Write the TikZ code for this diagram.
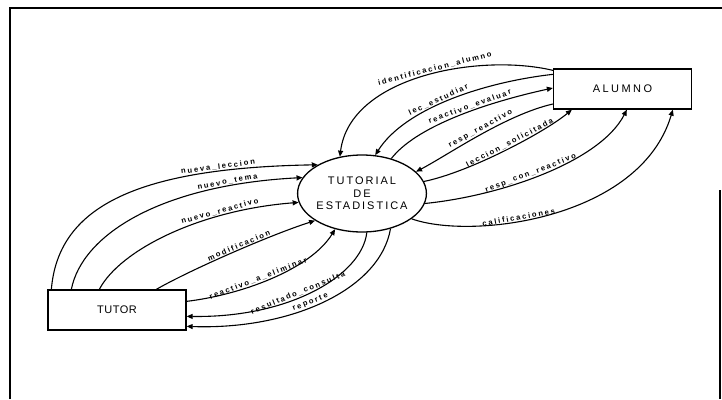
\documentclass[tikz,border=0pt]{standalone}
\usepackage{fontspec}
\setmainfont{Liberation Sans}
\newfontfamily\lblfont{Liberation Sans Bold}[LetterSpace=24]
\newfontfamily\boxfont{Liberation Sans}[LetterSpace=18]
\newfontfamily\alufont{Liberation Sans}[LetterSpace=22]
\newfontfamily\tutfont{Liberation Sans}[LetterSpace=5]
\usetikzlibrary{shapes.geometric,arrows.meta}
\begin{document}
\begin{tikzpicture}[x=1pt,y=-1pt,
  flow/.style={line width=1.1pt,-{Triangle[length=6pt,width=5pt]}},
  lbl/.style={font=\lblfont\fontsize{7.6}{9}\selectfont,sloped,above,inner sep=0.8pt},
  entity/.style={draw,line width=1.3pt,minimum width=138pt,minimum height=40pt,inner sep=0pt},
  frame/.style={line width=1.2pt}]
\useasboundingbox (0,0) rectangle (722,399);
% frame
\draw[frame] (10,399) -- (10,8) -- (722,8);
\draw[frame] (720,190) -- (720,399);
% nodes
\node[entity,font=\tutfont\fontsize{11}{12.5}\selectfont] (tutor) at (117,310) {TUTOR};
\node[entity,font=\alufont\fontsize{11}{12.5}\selectfont] (alumno) at (622.5,89) {ALUMNO};
\node[ellipse,draw,line width=1.3pt,minimum width=111pt,minimum height=77pt,inner sep=0pt,
      align=center,font=\boxfont\fontsize{11}{12.5}\selectfont] (proc) at (362,193.5)
      {TUTORIAL\\DE\\ESTADISTICA};
% ALUMNO side
\draw[flow] ([yshift=-2pt]alumno.north west) .. controls (480,53) and (350,76) .. (proc.121)
  node[lbl,pos=0.45] {identificacion\_alumno};
\draw[flow] ([yshift=-6pt]alumno.north west) .. controls (485,82) and (405,108) .. (proc.71)
  node[lbl,pos=0.55] {lec\_estudiar};
\draw[flow] (proc.50) .. controls (415,128) and (480,104) .. ([yshift=1pt]alumno.west)
  node[lbl,pos=0.6] {reactivo\_evaluar};
\draw[flow] ([yshift=-15pt]alumno.west) .. controls (505,115) and (448,155) .. (proc.22)
  node[lbl,pos=0.47] {resp\_reactivo};
\draw[flow] (proc.11) .. controls (470,172) and (545,132) .. ([xshift=19pt]alumno.south west)
  node[lbl,pos=0.54] {leccion\_solicitada};
\draw[flow] (proc.-9) .. controls (500,196) and (600,162) .. ([xshift=74pt]alumno.south west)
  node[lbl,pos=0.45] {resp\_con\_reactivo};
\draw[flow] (proc.-27) .. controls (470,240) and (640,220) .. ([xshift=120pt]alumno.south west)
  node[lbl,pos=0.4] {calificaciones};
% TUTOR side
\draw[flow] ([xshift=4pt]tutor.north west) .. controls (58,210) and (130,168) .. (proc.147)
  node[lbl,pos=0.8] {nueva\_leccion};
\draw[flow] ([xshift=24pt]tutor.north west) .. controls (82,235) and (160,185) .. (proc.165)
  node[lbl,pos=0.81] {nuevo\_tema};
\draw[flow] ([xshift=52pt]tutor.north west) .. controls (120,250) and (200,210) .. (proc.188)
  node[lbl,pos=0.72] {nuevo\_reactivo};
\draw[flow] ([xshift=109pt]tutor.north west) .. controls (190,270) and (270,235) .. (proc.210)
  node[lbl,pos=0.55] {modificacion};
\draw[flow] ([yshift=-12pt]tutor.north east) .. controls (240,295) and (310,270) .. (proc.233)
  node[lbl,pos=0.43] {reactivo\_a\_eliminar};
\draw[flow] (proc.277) .. controls (362,275) and (290,318) .. ([yshift=-27pt]tutor.north east)
  node[lbl,pos=0.57] {resultado\_consulta};
\draw[flow] (proc.309) .. controls (380,290) and (290,330) .. ([yshift=-37pt]tutor.north east)
  node[lbl,pos=0.55] {reporte};
\end{tikzpicture}
\end{document}
